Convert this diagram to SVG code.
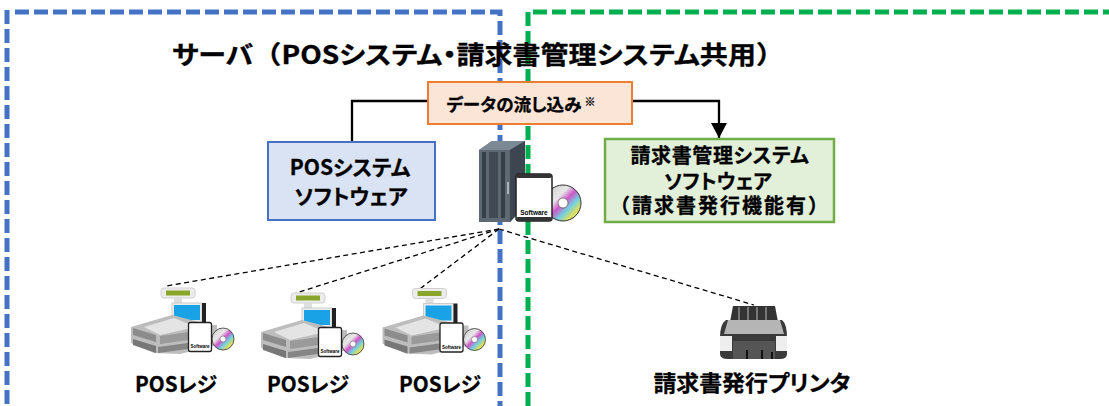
<svg xmlns="http://www.w3.org/2000/svg" xmlns:xlink="http://www.w3.org/1999/xlink" width="1109" height="406" viewBox="0 0 1109 406">
<style>
text{font-family:"Noto Sans CJK JP","Liberation Sans",sans-serif;font-weight:700;fill:#000;text-anchor:middle;stroke:#000;stroke-width:.3;font-feature-settings:"palt";text-spacing-trim:space-all}
.fw{font-feature-settings:normal}
.sw{font-family:"Liberation Sans",sans-serif;stroke:none}
.frame{fill:none;stroke-width:5;stroke-dasharray:14 5}
.dash{fill:none;stroke:#000;stroke-width:1.3;stroke-dasharray:5 3.5}
.flow{fill:none;stroke:#000;stroke-width:2.3}
</style>
<defs>
<marker id="arrow" markerUnits="userSpaceOnUse" markerWidth="16" markerHeight="16" refX="15" refY="8" orient="auto"><path d="M0 0L15 8L0 16Z" fill="#000"/></marker>
<linearGradient id="disc" x1="0" y1="0" x2="1" y2="1"><stop offset="0" stop-color="#c8c8c8"/><stop offset=".35" stop-color="#e8e8e8"/><stop offset=".5" stop-color="#d058c8"/><stop offset=".65" stop-color="#70d0e0"/><stop offset=".8" stop-color="#e0e060"/><stop offset="1" stop-color="#b0b0b0"/></linearGradient>
<symbol id="soft" overflow="visible">
<circle cx="47" cy="29" r="18" fill="url(#disc)" stroke="#333" stroke-width="1"/><circle cx="47" cy="29" r="5" fill="#fff" stroke="#555" stroke-width=".7"/>
<rect x="0" y="0" width="36" height="47" rx="3" fill="#fff" stroke="#222" stroke-width="1.500"/><rect x="0" y="0" width="36" height="4" rx="2" fill="#333"/><rect x="0" y="43" width="36" height="4" rx="2" fill="#333"/>
<text class="sw" x="18" y="41" font-size="6.500">Software</text>
</symbol>
<symbol id="softsmall" overflow="visible">
<circle cx="103" cy="64" r="11" fill="url(#disc)" stroke="#333" stroke-width=".8"/><circle cx="103" cy="64" r="3" fill="#fff" stroke="#555" stroke-width=".5"/>
<rect x="68.500" y="47.500" width="23" height="29" rx="2" fill="#fff" stroke="#222" stroke-width="1.300"/>
<text class="sw" x="80" y="73" font-size="4.500">Software</text>
</symbol>
<symbol id="pos" overflow="visible">
<rect x="41" y="13" width="34" height="10" rx="3" fill="#ececec" stroke="#d0d0d0"/><rect x="46" y="15.500" width="24" height="5" fill="#8aa62a"/>
<rect x="54" y="23" width="8" height="6" fill="#ddd"/>
<rect x="52" y="28" width="30" height="22" fill="#ececec" stroke="#ccc"/><rect x="54" y="30" width="26" height="15" fill="#19a3e6"/><rect x="82" y="28" width="4" height="24" fill="#222"/>
<path d="M11 52L52 40L90 50L97 50L97 70L60 79L34 78L11 68Z" fill="#bdbdbd"/>
<path d="M24 52L54 43L76 52L40 60Z" fill="#e4e4e4"/><path d="M13 53L36 60L36 67L13 60Z" fill="#8c8c8c"/><path d="M40 61L90 54L90 62L40 69Z" fill="#9a9a9a"/><path d="M13 64L36 71L36 78L13 70Z" fill="#777"/><path d="M38 72L90 65L90 71L38 78Z" fill="#858585"/>
<use xlink:href="#softsmall" href="#softsmall"/>
</symbol>
</defs>

<g id="frames">
<path class="frame" stroke="#4472c4" d="M7 10V406"/>
<path class="frame" stroke="#4472c4" d="M15 12H500V406"/>
<path class="frame" stroke="#00b050" d="M528 406V12H1109"/>
</g>

<text id="title" x="478" y="64" font-size="25" textLength="612" lengthAdjust="spacingAndGlyphs">サーバ<tspan class="fw">（</tspan>POSシステム・請求書管理システム共用<tspan class="fw">）</tspan></text>

<g id="connectors">
<path class="flow" d="M352 141V101H719V138" marker-end="url(#arrow)"/>
<path class="dash" d="M499 229L166 286"/>
<path class="dash" d="M499 229L296 293"/>
<path class="dash" d="M499 229L417 291"/>
<path class="dash" d="M499 229L754 305"/>
</g>

<g id="flow-label">
<rect x="428" y="82" width="204" height="42" fill="#fbe5d6" stroke="#ed7d31" stroke-width="2"/>
<text x="514" y="111" font-size="17" textLength="135" lengthAdjust="spacingAndGlyphs">データの流し込み</text><text x="590" y="106" font-size="11">※</text>
</g>

<g id="pos-software">
<rect x="268" y="142" width="167" height="78" fill="#dae3f3" stroke="#4472c4" stroke-width="2"/>
<text font-size="21"><tspan x="350" y="175">POSシステム</tspan><tspan x="351" y="204">ソフトウェア</tspan></text>
</g>

<g id="billing-software">
<rect x="605" y="139" width="229" height="83" fill="#e2f0d9" stroke="#70ad47" stroke-width="2.500"/>
<text font-size="20"><tspan x="720" y="163" letter-spacing=".6">請求書管理システム</tspan><tspan x="718" y="189">ソフトウェア</tspan><tspan class="fw" x="720" y="213" letter-spacing="2">（請求書発行機能有）</tspan></text>
</g>

<g id="server">
<path d="M479 150L492 141H525V206L510 222H479Z" fill="#5a6672"/>
<path d="M479 150L492 141H525L510 150Z" fill="#7c8894"/>
<path d="M510 150L525 141V206L510 222Z" fill="#3d4650"/>
<rect x="479" y="150" width="31" height="72" fill="#5f6974"/>
<rect x="482" y="152" width="4" height="66" fill="#363e46"/><rect x="489" y="152" width="9" height="66" fill="#414a54"/><rect x="501" y="152" width="4" height="66" fill="#363e46"/>
<rect x="507" y="182" width="2" height="12" fill="#a8b0b8"/>
<use xlink:href="#soft" href="#soft" x="516" y="174"/>
</g>

<g id="pos1"><use xlink:href="#pos" href="#pos" x="120" y="275"/></g>
<g id="pos2"><use xlink:href="#pos" href="#pos" x="250" y="280"/></g>
<g id="pos3"><use xlink:href="#pos" href="#pos" x="371.500" y="275.500"/></g>

<g id="printer">
<path d="M733 306H775L778 322H730Z" fill="#333"/>
<path d="M739 307V321M748 307V321M757 307V321M766 307V321" stroke="#777" stroke-width="2"/>
<path d="M726 320H782Q787 324 787 338V354Q787 359 780 359H728Q720 359 720 354V338Q720 324 726 320Z" fill="#3a3a3a"/>
<path d="M728 320H780L784 334H724Z" fill="#b5b5b5"/>
<rect x="720" y="336" width="12" height="15" fill="#eee"/><rect x="776" y="336" width="11" height="15" fill="#eee"/>
<rect x="733" y="341" width="42" height="18" fill="#555"/>
<path d="M747 359V350M762 359V350M772 359V352" stroke="#111" stroke-width="2"/>
</g>

<g id="labels">
<text x="176" y="392" font-size="21" textLength="82" lengthAdjust="spacingAndGlyphs">POSレジ</text>
<text x="308" y="392" font-size="21" textLength="82" lengthAdjust="spacingAndGlyphs">POSレジ</text>
<text x="440" y="392" font-size="21" textLength="82" lengthAdjust="spacingAndGlyphs">POSレジ</text>
<text x="752" y="391" font-size="22" textLength="197" lengthAdjust="spacingAndGlyphs">請求書発行プリンタ</text>
</g>
</svg>
